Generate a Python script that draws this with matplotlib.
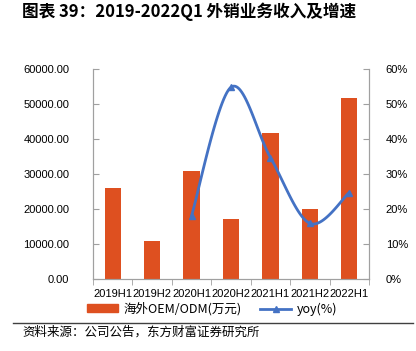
import numpy as np
import matplotlib
matplotlib.use("Agg")
import matplotlib.pyplot as plt
from matplotlib.lines import Line2D
from matplotlib.patches import Patch

plt.rcParams['font.family'] = ['Liberation Sans', 'Noto Sans CJK SC', 'DejaVu Sans']

categories = ["2019H1", "2019H2", "2020H1", "2020H2", "2021H1", "2021H2", "2022H1"]
revenue = [26000, 11000, 30800, 17200, 41600, 20100, 51800]
yoy_idx = [2, 3, 4, 5, 6]
yoy = [18.1, 54.8, 34.7, 15.9, 24.7]

left_ticks = [0, 10000, 20000, 30000, 40000, 50000, 60000]
right_ticks = [0, 10, 20, 30, 40, 50, 60]

BAR_COLOR = "#DE5020"
LINE_COLOR = "#4472C4"
AXIS_COLOR = "#A0A0A0"
CJK = ['Noto Sans CJK SC', 'DejaVu Sans']


def smooth_curve(xs, ys, n=30):
    """Excel-like smoothed line: cubic Bezier with Catmull-Rom control points."""
    xs = np.asarray(xs, float)
    ys = np.asarray(ys, float)
    px, py = [], []
    k = len(xs)
    for i in range(k - 1):
        x0, y0 = (xs[i - 1], ys[i - 1]) if i > 0 else (xs[i], ys[i])
        x1, y1 = xs[i], ys[i]
        x2, y2 = xs[i + 1], ys[i + 1]
        x3, y3 = (xs[i + 2], ys[i + 2]) if i + 2 < k else (x2, y2)
        c1x, c1y = x1 + (x2 - x0) / 6, y1 + (y2 - y0) / 6
        c2x, c2y = x2 - (x3 - x1) / 6, y2 - (y3 - y1) / 6
        t = np.linspace(0, 1, n)
        bx = (1-t)**3*x1 + 3*(1-t)**2*t*c1x + 3*(1-t)*t**2*c2x + t**3*x2
        by = (1-t)**3*y1 + 3*(1-t)**2*t*c1y + 3*(1-t)*t**2*c2y + t**3*y2
        px.extend(bx)
        py.extend(by)
    return np.array(px), np.array(py)


fig = plt.figure(figsize=(4.16, 3.51), dpi=100)
ax = fig.add_axes([93/416, 1 - 279/351, (369-93)/416, (279-69)/351])
x = np.arange(len(categories))
ax.bar(x, revenue, width=0.41, color=BAR_COLOR, zorder=2)
ax.set_xlim(-0.5, len(categories) - 0.5)
ax.set_ylim(0, 60000)
ax.set_yticks(left_ticks)
ax.set_yticklabels([f"{v:.2f}" for v in left_ticks], fontsize=8)
ax.set_xticks(x)
ax.set_xticklabels(categories, fontsize=8)
ax.set_xticks(np.arange(-0.5, len(categories)), minor=True)
ax.tick_params(axis='x', which='major', length=0, pad=7)
ax.tick_params(axis='x', which='minor', length=4, color=AXIS_COLOR, direction='out')
ax.tick_params(axis='y', direction='in', length=4, color=AXIS_COLOR, pad=17)

ax2 = ax.twinx()
sx, sy = smooth_curve(yoy_idx, yoy)
ax2.plot(sx, sy, color=LINE_COLOR, linewidth=2, zorder=3)
ax2.plot(yoy_idx, yoy, linestyle='none', marker='^', markersize=5, color=LINE_COLOR, zorder=4)
ax2.set_ylim(0, 60)
ax2.set_yticks(right_ticks)
ax2.set_yticklabels([f"{v}%" for v in right_ticks], fontsize=8)
ax2.tick_params(axis='y', direction='in', length=4, color=AXIS_COLOR, pad=12)

for a in (ax, ax2):
    a.spines['top'].set_visible(False)
    for side in ('left', 'right', 'bottom'):
        a.spines[side].set_color(AXIS_COLOR)

handles = [Patch(color=BAR_COLOR),
           Line2D([0], [0], color=LINE_COLOR, linewidth=2, marker='^', markersize=4)]
fig.legend(handles, ["海外OEM/ODM(万元)", "yoy(%)"], loc='center',
           bbox_to_anchor=(212/416, 1 - 309/351), ncol=2, frameon=False,
           handlelength=2.5, handleheight=0.6, columnspacing=1.5, handletextpad=0.4,
           prop={'family': CJK, 'size': 9})

fig.text(22/416, 1 - 12/351, "图表 39：2019-2022Q1 外销业务收入及增速", fontsize=12,
         fontweight='bold', family=CJK, va='center', ha='left')
fig.add_artist(Line2D([13/416, 413/416], [1 - 323/351, 1 - 323/351], color='#404040', linewidth=1))
fig.text(22/416, 1 - 332/351, "资料来源：公司公告，东方财富证券研究所", fontsize=9,
         family=CJK, va='center', ha='left')

fig.savefig("out.png", dpi=100)
